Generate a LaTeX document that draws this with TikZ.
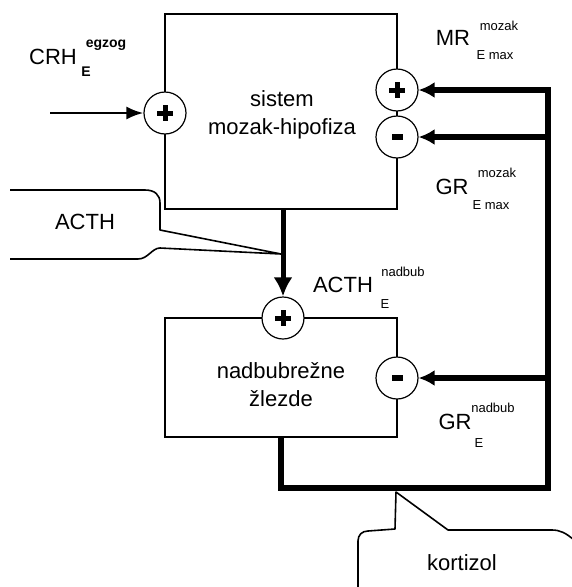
\documentclass[tikz,border=0pt]{standalone}
\usepackage{fontspec}
\setmainfont{Liberation Sans}
\usetikzlibrary{positioning,arrows.meta}

\tikzset{
  blockbox/.style={draw, line width=1.5pt, minimum width=232pt},
  blocktxt/.style={inner sep=0pt, align=center, font=\fontsize{22}{28}\selectfont},
  sumcirc/.style={circle, draw, fill=white, line width=1.2pt, minimum size=42pt, inner sep=0pt},
  plussum/.style={sumcirc, path picture={
      \fill[black] ([shift={(-8pt,-2.5pt)}]path picture bounding box.center) rectangle ++(16pt,5pt);
      \fill[black] ([shift={(-2.5pt,-8pt)}]path picture bounding box.center) rectangle ++(5pt,16pt);}},
  minussum/.style={sumcirc, path picture={
      \fill[black] ([shift={(-5.5pt,-3pt)}]path picture bounding box.center) rectangle ++(11pt,6pt);}},
  fbline/.style={line width=5.5pt, line join=miter},
  fbarrow/.style={line width=5.5pt, -{Latex[length=16pt,width=16pt]}},
  inarrow/.style={line width=2.5pt, -{Latex[length=17pt,width=13pt]}},
  downarrow/.style={line width=5pt, -{Latex[length=19pt,width=19pt]}},
  callout/.style={line width=1.6pt, line join=round},
  bigtxt/.style={inner sep=0pt, font=\fontsize{22}{26}\selectfont},
  smalltxt/.style={inner sep=0pt, font=\fontsize{13}{15}\selectfont}
}

\begin{document}
\begin{tikzpicture}[x=1pt, y=-1pt]
	\useasboundingbox (0,0) rectangle (572,587);
	
	% the two blocks
	\node[blockbox, minimum height=195pt] (brain) at (281,111.5) {};
	\node[blocktxt] (braintxt) at (282,115) {sistem\\mozak-hipofiza};
	\node[blockbox, minimum height=119pt] (adrenal) at (281,377.5) {};
	\node[blocktxt] (adrenaltxt) at (281,385) {nadbubrežne\\žlezde};
	
	% summing junctions
	\node[plussum] (crh) at (165,113) {};
	\node[plussum] (mrp) at (397,90) {};
	\node[minussum] (grm) at (397,137) {};
	\node[plussum] (acthp) at (283,318) {};
	\node[minussum] (grn) at (397,378) {};
	
	% input and ACTH arrow
	\coordinate (crhin) at (50,113);
	\draw[inarrow] (crhin) -- (crh);
	\draw[downarrow] (brain.south -| acthp) -- (acthp);
	
	% cortisol feedback
	\coordinate (fbcorner) at (548,488);
	\coordinate (fbtop) at (548,87);
	\draw[fbline] (adrenal.south) |- (fbcorner) -- (fbtop);
	\draw[fbarrow] (fbcorner |- mrp) -- (mrp);
	\draw[fbarrow] (fbcorner |- grm) -- (grm);
	\draw[fbarrow] (fbcorner |- grn) -- (grn);
	
	% labels
	\node[bigtxt] (crhtxt) at (53,57) {CRH};
	\node[smalltxt, font=\fontsize{14}{16}\selectfont\bfseries] at (106,45) {egzog};
	\node[smalltxt, font=\fontsize{14}{16}\selectfont\bfseries] at (86,72) {E};
	
	\node[bigtxt] (mrtxt) at (453,38) {MR};
	\node[smalltxt] at (499,26) {mozak};
	\node[smalltxt] at (495,55) {E max};
	
	\node[bigtxt] (grmtxt) at (452,187) {GR};
	\node[smalltxt] at (497,173) {mozak};
	\node[smalltxt] at (491,205) {E max};
	
	\node[bigtxt] (acthtxt) at (343,285) {ACTH};
	\node[smalltxt] at (403,272) {nadbub};
	\node[smalltxt] at (385,304) {E};
	
	\node[bigtxt] (grntxt) at (455,422) {GR};
	\node[smalltxt] at (493,408) {nadbub};
	\node[smalltxt] at (479,443) {E};
	
	% callouts
	\coordinate (acthtip) at (281,254);
	\draw[callout] (10,190) -- (145,190) .. controls (155,190) and (160,195) .. (160,203) -- (160,230) -- (acthtip) -- (160,248) .. controls (152,248) and (148,259) .. (138,259) -- (10,259);
	\node[bigtxt] (acthcall) at (85,222) {ACTH};
	
	\coordinate (kortip) at (396,492);
	\draw[callout] (358,587) -- (358,541) .. controls (358,535) and (362,531) .. (368,531) -- (395,529) -- (kortip) -- (448,530) -- (552,530) .. controls (560,530) and (566,533) .. (574,540);
	\node[bigtxt] (kortxt) at (462,563) {kortizol};
	
\end{tikzpicture}
\end{document}
